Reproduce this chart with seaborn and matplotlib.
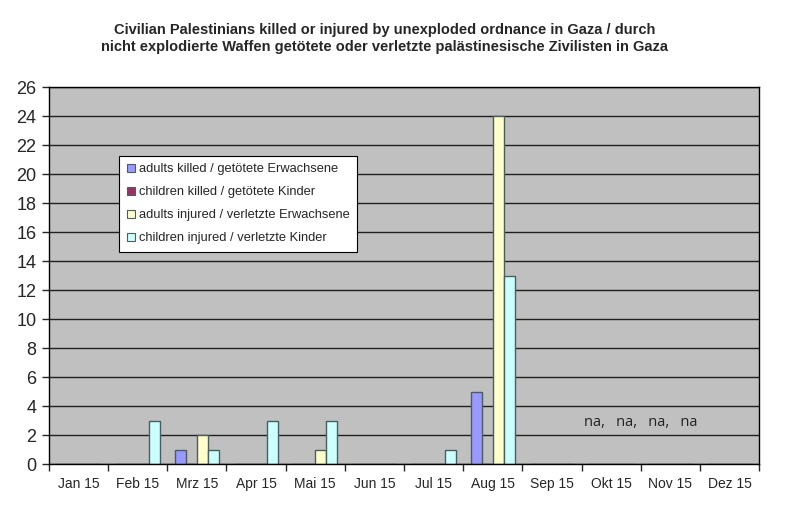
import numpy as np
import pandas as pd
import matplotlib
matplotlib.use("Agg")
import matplotlib.pyplot as plt
import seaborn as sns
from matplotlib.patches import Patch

# Data
months = ["Jan 15", "Feb 15", "Mrz 15", "Apr 15", "Mai 15", "Jun 15",
          "Jul 15", "Aug 15", "Sep 15", "Okt 15", "Nov 15", "Dez 15"]
series = ["adults killed / getötete Erwachsene",
          "children killed / getötete Kinder",
          "adults injured / verletzte Erwachsene",
          "children injured / verletzte Kinder"]
adults_killed = [0, 0, 1, 0, 0, 0, 0, 5, 0, 0, 0, 0]
children_killed = [0, 0, 0, 0, 0, 0, 0, 0, 0, 0, 0, 0]
adults_injured = [0, 0, 2, 0, 1, 0, 0, 24, 0, 0, 0, 0]
children_injured = [0, 3, 1, 3, 3, 0, 1, 13, 0, 0, 0, 0]
colors = ["#9999FF", "#993366", "#FFFFCC", "#CCFFFF"]

# long form table for seaborn
rows = []
for name, vals in zip(series, [adults_killed, children_killed, adults_injured, children_injured]):
    for m, v in zip(months, vals):
        rows.append({"month": m, "series": name, "value": v})
df = pd.DataFrame(rows)

sns.set_style("white")
plt.rcParams["font.family"] = ["Liberation Sans", "DejaVu Sans"]

fig = plt.figure(figsize=(8, 5.18), dpi=100)
ax = fig.add_axes([0.061, 0.104, 0.888, 0.728])
ax.set_facecolor("#C0C0C0")

sns.barplot(data=df, x="month", y="value", hue="series", order=months,
            hue_order=series, palette=colors, width=0.75, ax=ax,
            edgecolor="#4A5E5E", linewidth=1.0, legend=False, saturation=1)

ax.set_ylim(0, 26)
ax.set_xlim(-0.5, 11.5)
ax.set_yticks(range(0, 27, 2))
ax.yaxis.grid(True, color="#202020", linewidth=1.0)
ax.set_axisbelow(True)
for s in ax.spines.values():
    s.set_color("black")
    s.set_linewidth(1.0)

ax.set_xlabel("")
ax.set_ylabel("")
ax.tick_params(axis="y", labelsize=13, length=5, width=1, direction="out", left=True, pad=4)
ax.tick_params(axis="x", which="major", labelsize=10, length=0, pad=9)
ax.set_xticks(np.arange(-0.5, 12, 1), minor=True)
ax.tick_params(axis="x", which="minor", length=5, width=1, direction="out", bottom=True)

# "na" note for the months without data
ax.text(9.5, 2.9, "na,   na,   na,   na", ha="center", va="center", fontsize=10.5,
        family=["Open Sans", "DejaVu Sans"], color="#222222")

handles = [Patch(facecolor=c, edgecolor="#4A5E5E", linewidth=0.8) for c in colors]
leg = ax.legend(handles, series, loc="upper left", bbox_to_anchor=(0.09, 0.835),
                fontsize=9.3, frameon=True, fancybox=False, framealpha=1,
                edgecolor="black", handlelength=0.6, handleheight=0.6,
                handletextpad=0.3, labelspacing=0.85, borderpad=0.6)
leg.get_frame().set_linewidth(0.8)

fig.text(0.481, 0.925,
         "Civilian Palestinians killed or injured by unexploded ordnance in Gaza / durch\n"
         "nicht explodierte Waffen getötete oder verletzte palästinesische Zivilisten in Gaza",
         ha="center", va="center", fontsize=10.5, fontweight="bold",
         family=["Liberation Sans Narrow", "Liberation Sans"], linespacing=1.25)

fig.savefig("out.png", dpi=100, facecolor="white")
